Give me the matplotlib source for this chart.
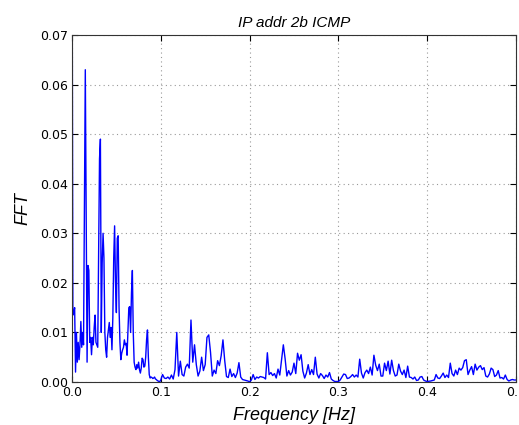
import numpy as np
import matplotlib
matplotlib.use('Agg')
import matplotlib.pyplot as plt

# FFT magnitudes, in units of 1e-3
# fine part: 0.000 .. 0.100 Hz, step 0.001
fft_low = [100, 13.5, 14, 15, 2, 10, 4, 8, 4.5, 7.5,
           12.2, 7, 10, 7.5, 35, 63, 35, 4, 23.5, 22.5,
           8, 9, 5.5, 9, 7.5, 11, 13.5, 8, 7.5, 7,
           25, 45, 49, 10, 24, 30, 25, 10, 6.5, 5,
           9, 10.5, 12, 9, 11, 6.5, 13, 25, 31.5, 20,
           14, 29, 29.5, 15, 8, 4.5, 5.8, 6.5, 7, 8.5,
           7.5, 7.8, 5.4, 10, 15, 15.2, 10, 18, 22.5, 10,
           4, 3, 2.5, 3.5, 2.8, 4, 2.5, 1.8, 2.8, 4.8,
           4.5, 3, 3.2, 5, 8.5, 10.5, 5, 1.5, 0.8, 1,
           0.9, 0.7, 0.8, 1, 0.6, 0.5, 0.3, 0.2, 0.1, 0.1,
           0.4]
# coarse part: 0.102 .. 0.500 Hz, step 0.002
fft_high = [1.5, 0.8, 0.7, 1.0, 0.6, 1.4, 0.6, 2.5, 10, 1.2,
            4.2, 1.5, 1.2, 3, 3.6, 2.8, 12.5, 4, 7.5, 3.5,
            1.2, 2.2, 5, 2.3, 3.5, 9, 9.5, 6, 1.2, 2.4,
            1.7, 4.3, 3.3, 5.3, 8.5, 4.3, 1.1, 0.9, 2.6, 1.1,
            1.7, 0.9, 1.8, 3.9, 1, 0.5, 0.4, 0.3, 0.2, 0.05,
            0.4, 1.5, 0.5, 1, 0.8, 1.1, 1.0, 0.9, 0.6, 5.9,
            1.5, 1.9, 1.3, 1.7, 0.8, 2.6, 1.4, 4.4, 7.5, 4.7,
            1.2, 2.3, 1.4, 2, 3.8, 1.7, 5.8, 4.4, 5.5, 2.2,
            0.8, 1.8, 3.5, 1.5, 2.5, 1.5, 5, 1.6, 0.8, 1.7,
            1.3, 0.7, 1.4, 1.0, 1.9, 0.6, 0.3, 0.1, 0.1, 0.1,
            0.4, 1, 1.6, 1.5, 0.7, 0.8, 1.1, 1.5, 1, 1.4,
            1, 4.6, 1.8, 0.8, 1.9, 2.4, 1.7, 3, 1.4, 5.4,
            3.4, 2.3, 3.6, 1.2, 1.2, 3.8, 2.3, 4.2, 1.6, 4.4,
            2.3, 1.2, 1.4, 3.6, 2.2, 1.5, 2.4, 0.9, 3.2, 1,
            0.9, 0.6, 1, 0.3, 0.4, 1, 1.1, 0.4, 0.2, 0.1,
            0.15, 0.2, 0.3, 0.4, 1.5, 0.8, 0.7, 1.2, 1.8, 0.9,
            1.4, 0.9, 3.8, 1.7, 1.2, 2.4, 1.5, 2.8, 2.4, 2.9,
            4.3, 4.5, 1.5, 2.4, 3.1, 1.5, 3.6, 2.4, 3, 3.3,
            2.5, 2.9, 1.2, 1, 1.6, 2.8, 2.5, 1.1, 1.4, 2.3,
            0.8, 0.9, 0.6, 1.4, 0.5, 0.2, 0.4, 0.5, 0.4, 0.4]

freq = np.concatenate([np.linspace(0, 0.1, len(fft_low)),
                       np.linspace(0.102, 0.5, len(fft_high))])
fft = np.array(fft_low + fft_high) * 1e-3

fig = plt.figure(figsize=(5.19, 4.25), dpi=100)
ax = fig.add_axes([0.1387, 0.1012, 0.8555, 0.8164])

ax.plot(freq, fft, color='b', linewidth=1)
ax.set_xlim(0, 0.5)
ax.set_ylim(0, 0.07)
ax.set_xticks([0.0, 0.1, 0.2, 0.3, 0.4, 0.5])
ax.set_yticks(np.arange(0, 0.071, 0.01))
ax.xaxis.set_major_formatter(matplotlib.ticker.FormatStrFormatter('%.1f'))
ax.yaxis.set_major_formatter(matplotlib.ticker.FormatStrFormatter('%.2f'))
ax.grid(True, color='#999999', linestyle=(0, (1, 3)), linewidth=0.8)
ax.tick_params(direction='in', top=True, right=True, labelsize=9, length=4, pad=3)
for s in ax.spines.values():
    s.set_color('#333333')

ax.set_title('IP addr 2b ICMP', family='Liberation Sans', style='italic', fontsize=11, pad=6)
ax.set_xlabel('Frequency [Hz]', family='Liberation Sans', style='italic', fontsize=13, labelpad=6)
ax.set_ylabel('FFT', family='Liberation Sans', style='italic', fontsize=13, labelpad=6)

fig.savefig('out.png', dpi=100)
